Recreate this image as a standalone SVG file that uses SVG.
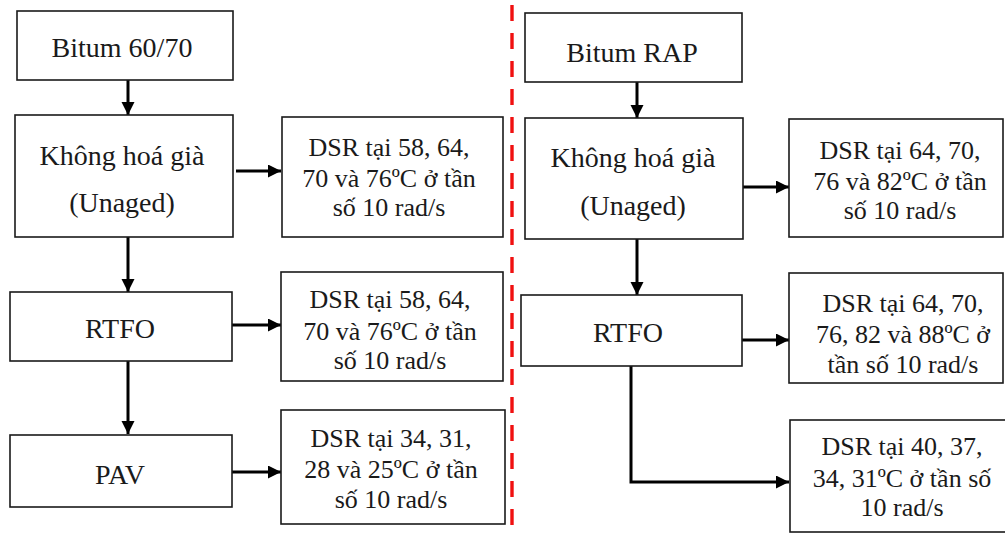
<svg xmlns="http://www.w3.org/2000/svg" width="1005" height="533" viewBox="0 0 1005 533">
<defs>
<style>
.box{fill:#fff;stroke:#1a1a1a;stroke-width:1.6}
.c{fill:none;stroke:#000;stroke-width:3}
</style>
<marker id="ah" markerUnits="userSpaceOnUse" markerWidth="14" markerHeight="14" refX="13" refY="6.5" orient="auto">
<path d="M0,0 L13,6.5 L0,13 Z" fill="#000"/>
</marker>
</defs>
<rect width="1005" height="533" fill="#fff"/>
<line x1="512" y1="5" x2="512" y2="533" stroke="#f01010" stroke-width="3.4" stroke-dasharray="16 12"/>

<g id="connectors">
<line class="c" x1="128" y1="80" x2="128" y2="115" marker-end="url(#ah)"/>
<line class="c" x1="236" y1="171" x2="281" y2="171" marker-end="url(#ah)"/>
<line class="c" x1="128" y1="237" x2="128" y2="292" marker-end="url(#ah)"/>
<line class="c" x1="232" y1="325" x2="281" y2="325" marker-end="url(#ah)"/>
<line class="c" x1="128" y1="361" x2="128" y2="434" marker-end="url(#ah)"/>
<line class="c" x1="232" y1="472" x2="281" y2="472" marker-end="url(#ah)"/>
<line class="c" x1="637" y1="82" x2="637" y2="118" marker-end="url(#ah)"/>
<line class="c" x1="743" y1="187" x2="789" y2="187" marker-end="url(#ah)"/>
<line class="c" x1="637" y1="239" x2="637" y2="295" marker-end="url(#ah)"/>
<line class="c" x1="742" y1="340" x2="789" y2="340" marker-end="url(#ah)"/>
<path class="c" d="M631,366 L631,482 L789,482" marker-end="url(#ah)"/>
</g>

<g id="n1"><rect class="box" x="17" y="11" width="216" height="69"/><text x="122" y="57" font-size="28" font-family="Times New Roman, Liberation Serif, serif" fill="#1a1a1a" text-anchor="middle">Bitum 60/70</text></g>
<g id="n2"><rect class="box" x="15" y="115" width="218" height="122"/><text x="122" y="165" font-size="28" font-family="Times New Roman, Liberation Serif, serif" fill="#1a1a1a" text-anchor="middle">Không hoá già</text><text x="122" y="212" font-size="28" font-family="Times New Roman, Liberation Serif, serif" fill="#1a1a1a" text-anchor="middle">(Unaged)</text></g>
<g id="n3"><rect class="box" x="282" y="117" width="221" height="120"/><text x="389" y="156" font-size="26" font-family="Times New Roman, Liberation Serif, serif" fill="#1a1a1a" text-anchor="middle">DSR tại 58, 64,</text><text x="389" y="187" font-size="26" font-family="Times New Roman, Liberation Serif, serif" fill="#1a1a1a" text-anchor="middle">70 và 76ºC ở tần</text><text x="389" y="216" font-size="26" font-family="Times New Roman, Liberation Serif, serif" fill="#1a1a1a" text-anchor="middle">số 10 rad/s</text></g>
<g id="n4"><rect class="box" x="10" y="292" width="222" height="69"/><text x="120" y="338" font-size="28" font-family="Times New Roman, Liberation Serif, serif" fill="#1a1a1a" text-anchor="middle">RTFO</text></g>
<g id="n5"><rect class="box" x="281" y="272" width="222" height="109"/><text x="390" y="308" font-size="26" font-family="Times New Roman, Liberation Serif, serif" fill="#1a1a1a" text-anchor="middle">DSR tại 58, 64,</text><text x="390" y="340" font-size="26" font-family="Times New Roman, Liberation Serif, serif" fill="#1a1a1a" text-anchor="middle">70 và 76ºC ở tần</text><text x="390" y="369" font-size="26" font-family="Times New Roman, Liberation Serif, serif" fill="#1a1a1a" text-anchor="middle">số 10 rad/s</text></g>
<g id="n6"><rect class="box" x="10" y="435" width="222" height="72"/><text x="120" y="484" font-size="28" font-family="Times New Roman, Liberation Serif, serif" fill="#1a1a1a" text-anchor="middle">PAV</text></g>
<g id="n7"><rect class="box" x="281" y="410" width="224" height="114"/><text x="391" y="447" font-size="26" font-family="Times New Roman, Liberation Serif, serif" fill="#1a1a1a" text-anchor="middle">DSR tại 34, 31,</text><text x="391" y="478" font-size="26" font-family="Times New Roman, Liberation Serif, serif" fill="#1a1a1a" text-anchor="middle">28 và 25ºC ở tần</text><text x="391" y="508" font-size="26" font-family="Times New Roman, Liberation Serif, serif" fill="#1a1a1a" text-anchor="middle">số 10 rad/s</text></g>
<g id="n8"><rect class="box" x="525" y="13" width="217" height="69"/><text x="632" y="62" font-size="28" font-family="Times New Roman, Liberation Serif, serif" fill="#1a1a1a" text-anchor="middle">Bitum RAP</text></g>
<g id="n9"><rect class="box" x="525" y="118" width="218" height="121"/><text x="633" y="167" font-size="28" font-family="Times New Roman, Liberation Serif, serif" fill="#1a1a1a" text-anchor="middle">Không hoá già</text><text x="633" y="215" font-size="28" font-family="Times New Roman, Liberation Serif, serif" fill="#1a1a1a" text-anchor="middle">(Unaged)</text></g>
<g id="n10"><rect class="box" x="789" y="119" width="214" height="118"/><text x="900" y="159" font-size="26" font-family="Times New Roman, Liberation Serif, serif" fill="#1a1a1a" text-anchor="middle">DSR tại 64, 70,</text><text x="900" y="190" font-size="26" font-family="Times New Roman, Liberation Serif, serif" fill="#1a1a1a" text-anchor="middle">76 và 82ºC ở tần</text><text x="900" y="219" font-size="26" font-family="Times New Roman, Liberation Serif, serif" fill="#1a1a1a" text-anchor="middle">số 10 rad/s</text></g>
<g id="n11"><rect class="box" x="521" y="295" width="221" height="71"/><text x="628" y="342" font-size="28" font-family="Times New Roman, Liberation Serif, serif" fill="#1a1a1a" text-anchor="middle">RTFO</text></g>
<g id="n12"><rect class="box" x="789" y="273" width="214" height="110"/><text x="903" y="312" font-size="26" font-family="Times New Roman, Liberation Serif, serif" fill="#1a1a1a" text-anchor="middle">DSR tại 64, 70,</text><text x="903" y="343" font-size="26" font-family="Times New Roman, Liberation Serif, serif" fill="#1a1a1a" text-anchor="middle">76, 82 và 88ºC ở</text><text x="903" y="373" font-size="26" font-family="Times New Roman, Liberation Serif, serif" fill="#1a1a1a" text-anchor="middle">tần số 10 rad/s</text></g>
<g id="n13"><rect class="box" x="790" y="420" width="220" height="112"/><text x="902" y="455" font-size="26" font-family="Times New Roman, Liberation Serif, serif" fill="#1a1a1a" text-anchor="middle">DSR tại 40, 37,</text><text x="902" y="487" font-size="26" font-family="Times New Roman, Liberation Serif, serif" fill="#1a1a1a" text-anchor="middle">34, 31ºC ở tần số</text><text x="902" y="516" font-size="26" font-family="Times New Roman, Liberation Serif, serif" fill="#1a1a1a" text-anchor="middle">10 rad/s</text></g>
</svg>
